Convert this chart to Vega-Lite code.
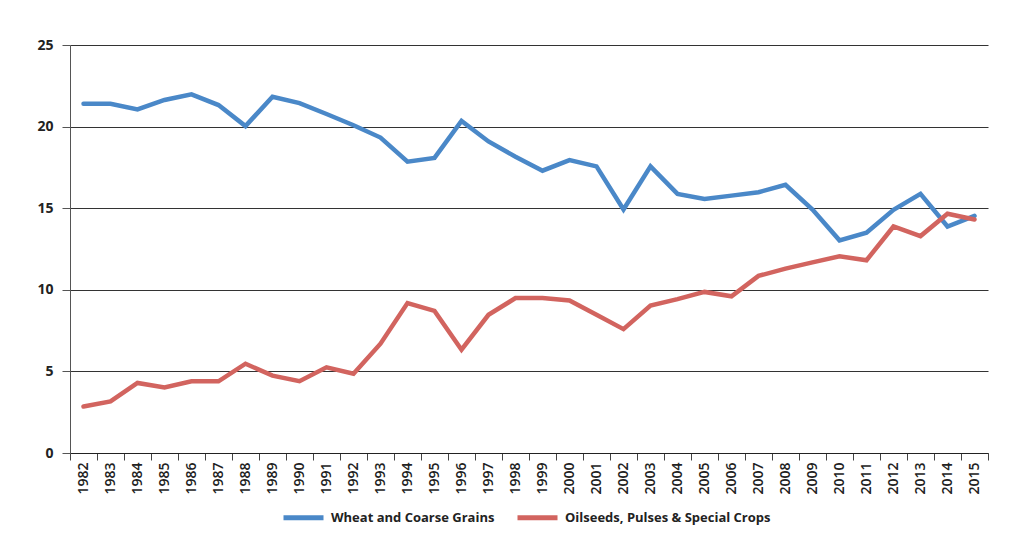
{
  "$schema": "https://vega.github.io/schema/vega-lite/v6.json",
  "width": 918,
  "height": 408,
  "autosize": {"type": "none"},
  "padding": {"left": 70, "top": 45, "right": 28, "bottom": 95},
  "background": "white",
  "config": {
    "view": {"stroke": null},
    "font": "Open Sans"
  },
  "data": {
    "values": [
      {"year": "1982", "crop": "Wheat and Coarse Grains", "value": 21.4},
      {"year": "1983", "crop": "Wheat and Coarse Grains", "value": 21.4},
      {"year": "1984", "crop": "Wheat and Coarse Grains", "value": 21.05},
      {"year": "1985", "crop": "Wheat and Coarse Grains", "value": 21.63},
      {"year": "1986", "crop": "Wheat and Coarse Grains", "value": 21.98},
      {"year": "1987", "crop": "Wheat and Coarse Grains", "value": 21.32},
      {"year": "1988", "crop": "Wheat and Coarse Grains", "value": 20.03},
      {"year": "1989", "crop": "Wheat and Coarse Grains", "value": 21.83},
      {"year": "1990", "crop": "Wheat and Coarse Grains", "value": 21.44},
      {"year": "1991", "crop": "Wheat and Coarse Grains", "value": 20.77},
      {"year": "1992", "crop": "Wheat and Coarse Grains", "value": 20.08},
      {"year": "1993", "crop": "Wheat and Coarse Grains", "value": 19.33},
      {"year": "1994", "crop": "Wheat and Coarse Grains", "value": 17.85},
      {"year": "1995", "crop": "Wheat and Coarse Grains", "value": 18.08},
      {"year": "1996", "crop": "Wheat and Coarse Grains", "value": 20.35},
      {"year": "1997", "crop": "Wheat and Coarse Grains", "value": 19.09},
      {"year": "1998", "crop": "Wheat and Coarse Grains", "value": 18.15},
      {"year": "1999", "crop": "Wheat and Coarse Grains", "value": 17.3},
      {"year": "2000", "crop": "Wheat and Coarse Grains", "value": 17.95},
      {"year": "2001", "crop": "Wheat and Coarse Grains", "value": 17.56},
      {"year": "2002", "crop": "Wheat and Coarse Grains", "value": 14.92},
      {"year": "2003", "crop": "Wheat and Coarse Grains", "value": 17.56},
      {"year": "2004", "crop": "Wheat and Coarse Grains", "value": 15.88},
      {"year": "2005", "crop": "Wheat and Coarse Grains", "value": 15.57},
      {"year": "2006", "crop": "Wheat and Coarse Grains", "value": 15.77},
      {"year": "2007", "crop": "Wheat and Coarse Grains", "value": 15.98},
      {"year": "2008", "crop": "Wheat and Coarse Grains", "value": 16.43},
      {"year": "2009", "crop": "Wheat and Coarse Grains", "value": 14.92},
      {"year": "2010", "crop": "Wheat and Coarse Grains", "value": 13.03},
      {"year": "2011", "crop": "Wheat and Coarse Grains", "value": 13.5},
      {"year": "2012", "crop": "Wheat and Coarse Grains", "value": 14.9},
      {"year": "2013", "crop": "Wheat and Coarse Grains", "value": 15.88},
      {"year": "2014", "crop": "Wheat and Coarse Grains", "value": 13.88},
      {"year": "2015", "crop": "Wheat and Coarse Grains", "value": 14.53},
      {"year": "1982", "crop": "Oilseeds, Pulses & Special Crops", "value": 2.85},
      {"year": "1983", "crop": "Oilseeds, Pulses & Special Crops", "value": 3.16},
      {"year": "1984", "crop": "Oilseeds, Pulses & Special Crops", "value": 4.29},
      {"year": "1985", "crop": "Oilseeds, Pulses & Special Crops", "value": 4.02},
      {"year": "1986", "crop": "Oilseeds, Pulses & Special Crops", "value": 4.39},
      {"year": "1987", "crop": "Oilseeds, Pulses & Special Crops", "value": 4.39},
      {"year": "1988", "crop": "Oilseeds, Pulses & Special Crops", "value": 5.47},
      {"year": "1989", "crop": "Oilseeds, Pulses & Special Crops", "value": 4.74},
      {"year": "1990", "crop": "Oilseeds, Pulses & Special Crops", "value": 4.4},
      {"year": "1991", "crop": "Oilseeds, Pulses & Special Crops", "value": 5.25},
      {"year": "1992", "crop": "Oilseeds, Pulses & Special Crops", "value": 4.86},
      {"year": "1993", "crop": "Oilseeds, Pulses & Special Crops", "value": 6.7},
      {"year": "1994", "crop": "Oilseeds, Pulses & Special Crops", "value": 9.19},
      {"year": "1995", "crop": "Oilseeds, Pulses & Special Crops", "value": 8.71},
      {"year": "1996", "crop": "Oilseeds, Pulses & Special Crops", "value": 6.33},
      {"year": "1997", "crop": "Oilseeds, Pulses & Special Crops", "value": 8.47},
      {"year": "1998", "crop": "Oilseeds, Pulses & Special Crops", "value": 9.49},
      {"year": "1999", "crop": "Oilseeds, Pulses & Special Crops", "value": 9.49},
      {"year": "2000", "crop": "Oilseeds, Pulses & Special Crops", "value": 9.35},
      {"year": "2001", "crop": "Oilseeds, Pulses & Special Crops", "value": 8.47},
      {"year": "2002", "crop": "Oilseeds, Pulses & Special Crops", "value": 7.59},
      {"year": "2003", "crop": "Oilseeds, Pulses & Special Crops", "value": 9.04},
      {"year": "2004", "crop": "Oilseeds, Pulses & Special Crops", "value": 9.43},
      {"year": "2005", "crop": "Oilseeds, Pulses & Special Crops", "value": 9.87},
      {"year": "2006", "crop": "Oilseeds, Pulses & Special Crops", "value": 9.6},
      {"year": "2007", "crop": "Oilseeds, Pulses & Special Crops", "value": 10.85},
      {"year": "2008", "crop": "Oilseeds, Pulses & Special Crops", "value": 11.3},
      {"year": "2009", "crop": "Oilseeds, Pulses & Special Crops", "value": 11.68},
      {"year": "2010", "crop": "Oilseeds, Pulses & Special Crops", "value": 12.05},
      {"year": "2011", "crop": "Oilseeds, Pulses & Special Crops", "value": 11.81},
      {"year": "2012", "crop": "Oilseeds, Pulses & Special Crops", "value": 13.88},
      {"year": "2013", "crop": "Oilseeds, Pulses & Special Crops", "value": 13.29},
      {"year": "2014", "crop": "Oilseeds, Pulses & Special Crops", "value": 14.66},
      {"year": "2015", "crop": "Oilseeds, Pulses & Special Crops", "value": 14.31}
    ]
  },
  "mark": {"type": "line", "strokeWidth": 4.5, "strokeCap": "round", "strokeJoin": "miter"},
  "encoding": {
    "x": {
      "field": "year",
      "type": "ordinal",
      "scale": {"type": "band", "paddingInner": 0, "paddingOuter": 0},
      "axis": {
        "title": null,
        "labelAngle": 270,
        "tickBand": "extent",
        "tickSize": 7,
        "domainColor": "#222222",
        "tickColor": "#444444",
        "labelFont": "Open Sans",
        "labelFontSize": 14,
        "labelFontWeight": 600,
        "labelColor": "#222222",
        "labelPadding": 2
      }
    },
    "y": {
      "field": "value",
      "type": "quantitative",
      "scale": {"domain": [0, 25], "nice": false, "zero": true},
      "axis": {
        "title": null,
        "values": [0, 5, 10, 15, 20, 25],
        "grid": true,
        "gridColor": "#333333",
        "gridWidth": 1,
        "gridOpacity": 1,
        "domainColor": "#555555",
        "tickColor": "#555555",
        "tickSize": 8,
        "labelFont": "Open Sans",
        "labelFontSize": 14,
        "labelFontWeight": "bold",
        "labelColor": "#222222",
        "labelPadding": 9
      }
    },
    "color": {
      "field": "crop",
      "type": "nominal",
      "scale": {
        "domain": ["Wheat and Coarse Grains", "Oilseeds, Pulses & Special Crops"],
        "range": ["#4a88c8", "#d2645f"]
      },
      "legend": {
        "title": null,
        "orient": "none",
        "legendX": 211,
        "legendY": 450,
        "direction": "horizontal",
        "padding": 0,
        "symbolType": "stroke",
        "symbolSize": 1600,
        "symbolStrokeWidth": 5,
        "labelFont": "Open Sans",
        "labelFontSize": 13,
        "labelFontWeight": "bold",
        "labelColor": "#222222",
        "labelOffset": 5,
        "columnPadding": 12,
        "labelLimit": 400
      }
    }
  }
}
